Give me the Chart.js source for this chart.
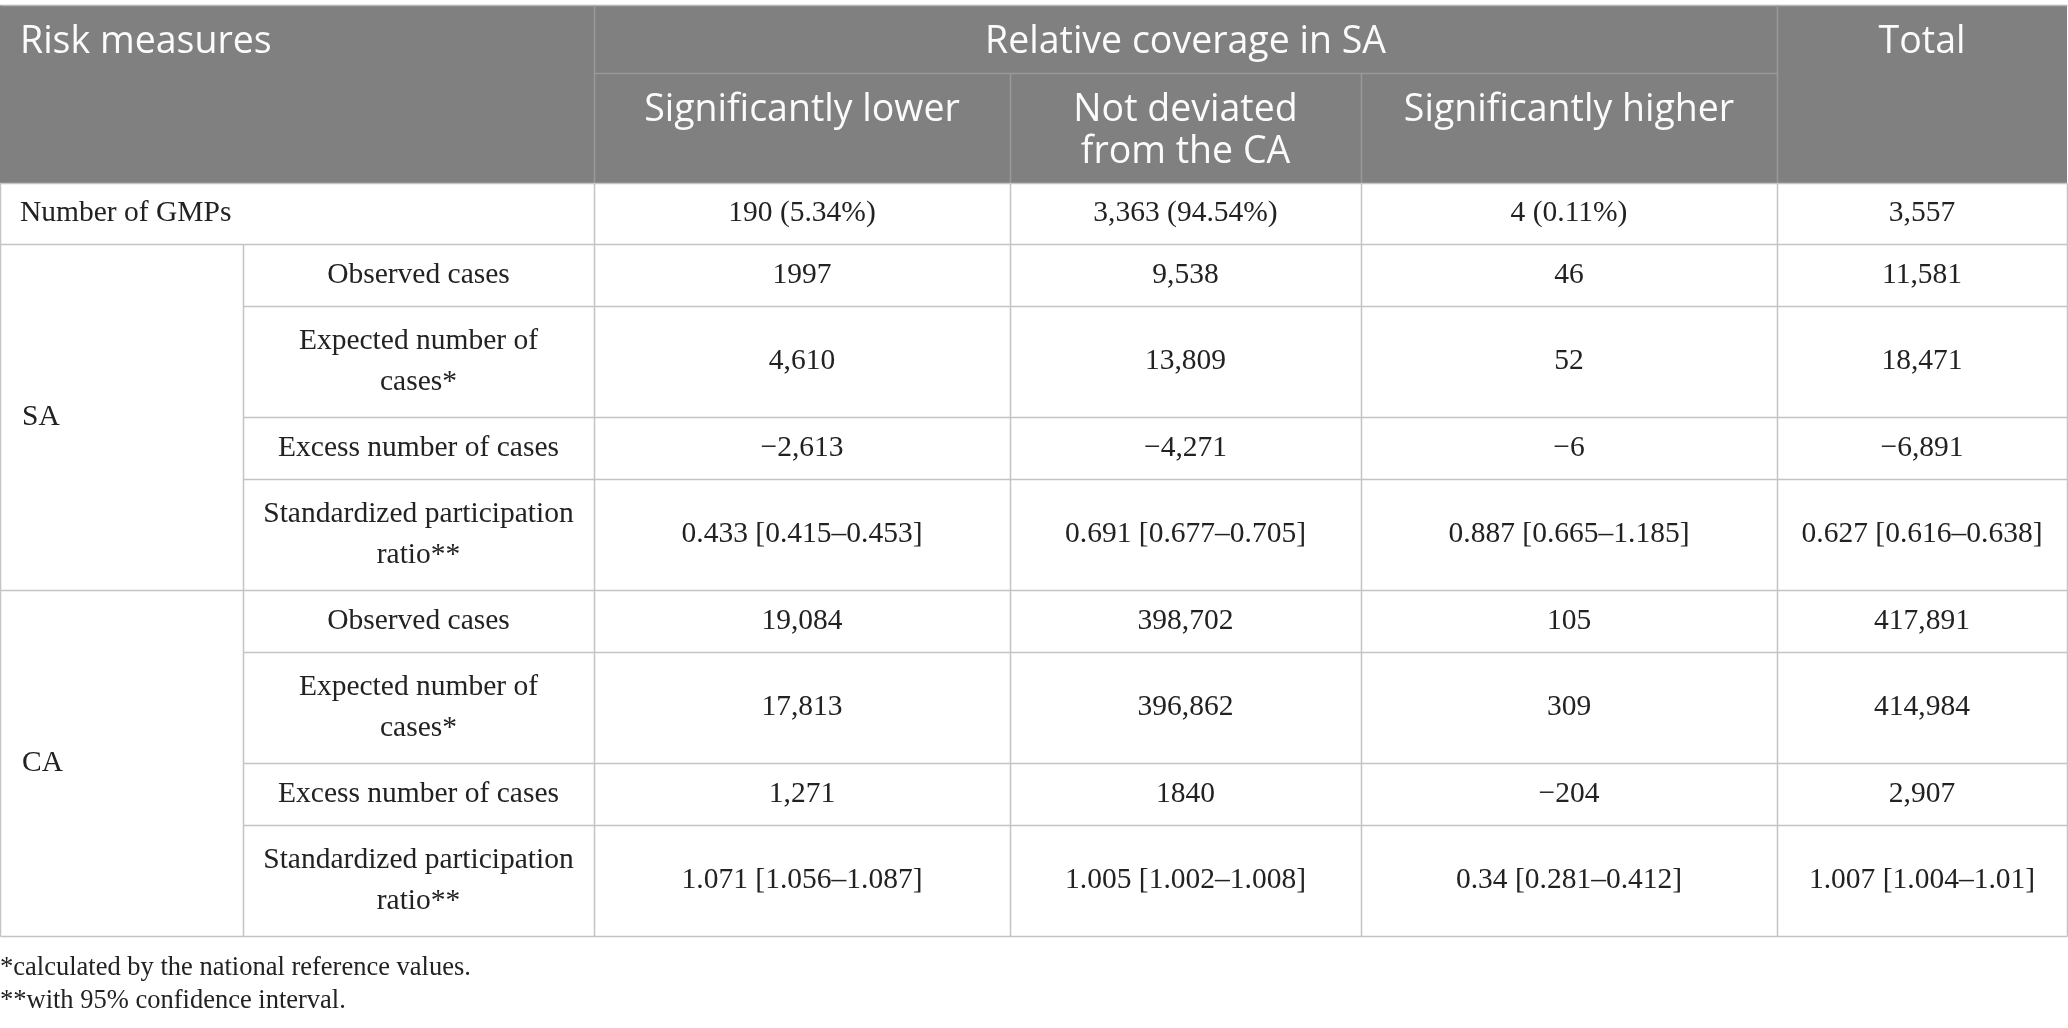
<!DOCTYPE html>
<html lang="en">
<head>
    <meta charset="UTF-8">
    <title>Risk measures by relative coverage in SA</title>
    <script src="https://cdn.jsdelivr.net/npm/chart.js"></script>
    <style>
        html, body { margin: 0; padding: 0; background: #fff; }
        #wrap { width: 2068px; height: 1028px; position: relative; }
    </style>
</head>
<body>
<div id="wrap">
  <canvas id="myChart"></canvas>
</div>
<script>
  // table content
  const groupHeader = 'Relative coverage in SA';
  const firstHeader = 'Risk measures';
  const totalHeader = 'Total';
  const columnHeaders = [['Significantly lower'], ['Not deviated', 'from the CA'], ['Significantly higher']];
  const gmpLabel = 'Number of GMPs';
  const blockLabels = ['SA', 'CA'];
  const measureLabels = [
    ['Observed cases'],
    ['Expected number of', 'cases*'],
    ['Excess number of cases'],
    ['Standardized participation', 'ratio**']
  ];

  // one array per column: GMP row, then SA rows, then CA rows
  const lowerValues = ['190 (5.34%)', '1997', '4,610', '\u22122,613', '0.433 [0.415\u20130.453]',
                       '19,084', '17,813', '1,271', '1.071 [1.056\u20131.087]'];
  const notDeviatedValues = ['3,363 (94.54%)', '9,538', '13,809', '\u22124,271', '0.691 [0.677\u20130.705]',
                       '398,702', '396,862', '1840', '1.005 [1.002\u20131.008]'];
  const higherValues = ['4 (0.11%)', '46', '52', '\u22126', '0.887 [0.665\u20131.185]',
                       '105', '309', '\u2212204', '0.34 [0.281\u20130.412]'];
  const totalValues = ['3,557', '11,581', '18,471', '\u22126,891', '0.627 [0.616\u20130.638]',
                       '417,891', '414,984', '2,907', '1.007 [1.004\u20131.01]'];
  const footnotes = ['*calculated by the national reference values.', '**with 95% confidence interval.'];

  // layout (scale units)
  const colEdges = [0, 243, 594, 1010, 1361, 1777, 2067];
  const rowEdges = [183, 244, 306, 417, 479, 590, 652, 763, 825, 936];
  const headTop = 5, headMid = 73, headBottom = 183;

  const headFont = '37.5px "Open Sans"';
  const bodyFont = '29.5px "Liberation Serif"';
  const noteFont = '26.5px "Liberation Serif"';

  const tablePlugin = {
    id: 'tablePlugin',
    afterDraw(chart) {
      const c = chart.ctx, sx = chart.scales.x, sy = chart.scales.y;
      const X = v => sx.getPixelForValue(v);
      const Y = v => sy.getPixelForValue(v);
      const valueCols = [lowerValues, notDeviatedValues, higherValues, totalValues];

      c.save();
      // header background
      c.fillStyle = '#808080';
      c.fillRect(X(0), Y(headTop), X(2067) - X(0), Y(headBottom) - Y(headTop));

      function line(x1, y1, x2, y2, col) {
        c.strokeStyle = col;
        c.lineWidth = 1.5;
        c.beginPath();
        c.moveTo(Math.round(X(x1)) + 0.5, Math.round(Y(y1)) + 0.5);
        c.lineTo(Math.round(X(x2)) + 0.5, Math.round(Y(y2)) + 0.5);
        c.stroke();
      }

      // header lines
      const hl = '#999999';
      line(0, headTop, 2067, headTop, '#b4b4b4');
      line(colEdges[2], headMid, colEdges[5], headMid, hl);
      line(colEdges[2], headTop, colEdges[2], headBottom, hl);
      line(colEdges[5], headTop, colEdges[5], headBottom, hl);
      line(colEdges[3], headMid, colEdges[3], headBottom, hl);
      line(colEdges[4], headMid, colEdges[4], headBottom, hl);

      // body grid
      const gl = '#c4c4c4';
      rowEdges.forEach((r, i) => {
        const inner = (i >= 2 && i <= 4) || (i >= 6 && i <= 8);
        line(inner ? colEdges[1] : 0, r, 2067, r, gl);
      });
      line(0, headBottom, 0, rowEdges[rowEdges.length - 1], gl);
      line(colEdges[1], rowEdges[1], colEdges[1], rowEdges[rowEdges.length - 1], gl);
      for (let k = 2; k < colEdges.length; k++) {
        line(colEdges[k], headBottom, colEdges[k], rowEdges[rowEdges.length - 1], gl);
      }

      // header text
      c.fillStyle = '#fbfbfb';
      c.font = headFont;
      c.textBaseline = 'alphabetic';
      c.textAlign = 'left';
      c.fillText(firstHeader, X(20), Y(53));
      c.textAlign = 'center';
      c.fillText(groupHeader, X((colEdges[2] + colEdges[5]) / 2), Y(53));
      c.fillText(totalHeader, X((colEdges[5] + colEdges[6]) / 2), Y(53));
      columnHeaders.forEach((lines, i) => {
        const cx = X((colEdges[i + 2] + colEdges[i + 3]) / 2);
        lines.forEach((t, j) => c.fillText(t, cx, Y(121 + j * 42)));
      });

      // body text
      c.fillStyle = '#222222';
      c.font = bodyFont;
      c.textBaseline = 'middle';
      function cell(lines, x, top, bottom) {
        const mid = (top + bottom) / 2;
        const n = lines.length;
        lines.forEach((t, j) => c.fillText(t, X(x), Y(mid + (j - (n - 1) / 2) * 41)));
      }
      c.textAlign = 'left';
      cell([gmpLabel], 20, rowEdges[0], rowEdges[1]);
      cell([blockLabels[0]], 22, rowEdges[1], rowEdges[5]);
      cell([blockLabels[1]], 22, rowEdges[5], rowEdges[9]);
      c.textAlign = 'center';
      for (let r = 0; r < 9; r++) {
        const top = rowEdges[r], bottom = rowEdges[r + 1];
        if (r > 0) {
          cell(measureLabels[(r - 1) % 4], (colEdges[1] + colEdges[2]) / 2, top, bottom);
        }
        valueCols.forEach((vals, k) => {
          cell([vals[r]], (colEdges[k + 2] + colEdges[k + 3]) / 2, top, bottom);
        });
      }

      // footnotes
      c.font = noteFont;
      c.textAlign = 'left';
      c.textBaseline = 'alphabetic';
      footnotes.forEach((t, j) => c.fillText(t, X(0), Y(975 + j * 33)));
      c.restore();
    }
  };

  const ctx = document.getElementById('myChart');
  new Chart(ctx, {
    type: 'scatter',
    data: { datasets: [] },
    options: {
      responsive: true,
      maintainAspectRatio: false,
      animation: false,
      events: [],
      layout: { padding: 0 },
      plugins: { legend: { display: false }, tooltip: { enabled: false } },
      scales: {
        x: { type: 'linear', min: 0, max: 2068, display: false },
        y: { type: 'linear', min: 0, max: 1028, reverse: true, display: false }
      }
    },
    plugins: [tablePlugin]
  });
</script>
</body>
</html>
